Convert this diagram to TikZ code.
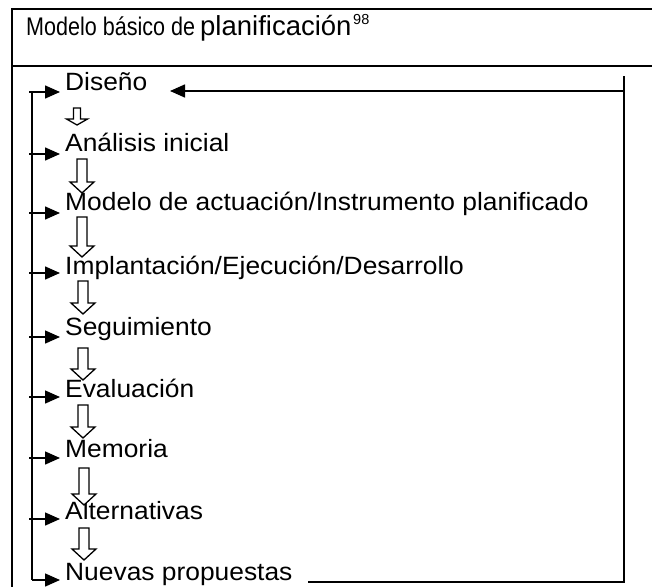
\documentclass[tikz,border=0pt]{standalone}
\usepackage{fontspec}
\usepackage{graphicx}
\setmainfont{Liberation Sans}
\usetikzlibrary{arrows.meta}
\newcommand\myHollow[6]{% cx, top, tip, shaft half, head half, head length
  \draw[hollow] ({#1-#4},{#2}) -- ({#1+#4},{#2}) -- ({#1+#4},{#3-#6}) -- ({#1+#5},{#3-#6})
    -- ({#1},{#3}) -- ({#1-#5},{#3-#6}) -- ({#1-#4},{#3-#6}) -- cycle;}
\newcommand\bodytext[1]{\scalebox{1.055}[1]{#1}}
\begin{document}
\begin{tikzpicture}[x=1pt,y=-1pt,
  frame/.style={line width=2pt},
  conn/.style={line width=1.5pt},
  tip/.style={conn,-{Triangle[length=15pt,width=13pt]}},
  item/.style={anchor=base west,inner sep=0pt,font=\fontsize{25}{29}\selectfont},
  ttl/.style={anchor=base west,inner sep=0pt},
  hollow/.style={line width=1.3pt,fill=white,line join=miter}]
\useasboundingbox (0,0) rectangle (652,586);
% frame
\draw[frame] (12,587) -- (12,9) -- (653,9);
\draw[frame] (12,66) -- (653,66);
% title
\node[ttl,font=\fontsize{25.5}{29}\selectfont] (title) at (26,36)
  {\scalebox{0.845}[1]{Modelo básico de}};
\node[ttl,font=\fontsize{27.5}{31}\selectfont] (title2) at (200,36) {planificación};
\node[ttl,font=\fontsize{14.5}{16}\selectfont] (fn) at (353,25) {98};
% items
\node[item] (d1) at (65,90) {\bodytext{Diseño}};
\node[item] (d2) at (65,151) {\bodytext{Análisis inicial}};
\node[item] (d3) at (65,210) {\bodytext{Modelo de actuación/Instrumento planificado}};
\node[item] (d4) at (65,274) {\bodytext{Implantación/Ejecución/Desarrollo}};
\node[item] (d5) at (65,335) {\bodytext{Seguimiento}};
\node[item] (d6) at (65,397) {\bodytext{Evaluación}};
\node[item] (d7) at (65,457) {\bodytext{Memoria}};
\node[item] (d8) at (65,519) {\bodytext{Alternativas}};
\node[item] (d9) at (65,580.5) {\bodytext{Nuevas propuestas}};
% hollow down arrows
\myHollow{77}{108}{125}{3.5}{10.5}{6}
\myHollow{82}{159}{193}{5}{12}{11}
\myHollow{82}{217}{257}{5}{12}{11}
\myHollow{83}{281}{314}{5}{12}{11}
\myHollow{83}{348}{380}{5}{12}{11}
\myHollow{83}{405}{438}{5}{12}{11}
\myHollow{84}{468}{505}{5}{12}{11}
\myHollow{84}{528}{560}{5}{12}{11}
% left bus
\coordinate (btop) at (32,92);
\coordinate (bbot) at (32,580);
\coordinate (t9) at (60,580);
\draw[conn] (btop) -- (bbot);
\draw[tip] (bbot) -- (t9);
\foreach \y [count=\i] in {92,154,213,273,337,397,458,519}{
  \coordinate (s\i) at (29,\y);
  \coordinate (t\i) at (60,\y);
  \draw[tip] (s\i) -- (t\i);
}
% right feedback loop
\coordinate (ne) at (308,582);
\coordinate (rb) at (624,582);
\coordinate (rt) at (624,76);
\coordinate (rr) at (624,91);
\coordinate (dt) at (170,91);
\draw[conn] (ne) -- (rb) -- (rt);
\draw[tip] (rr) -- (dt);
\end{tikzpicture}
\end{document}
